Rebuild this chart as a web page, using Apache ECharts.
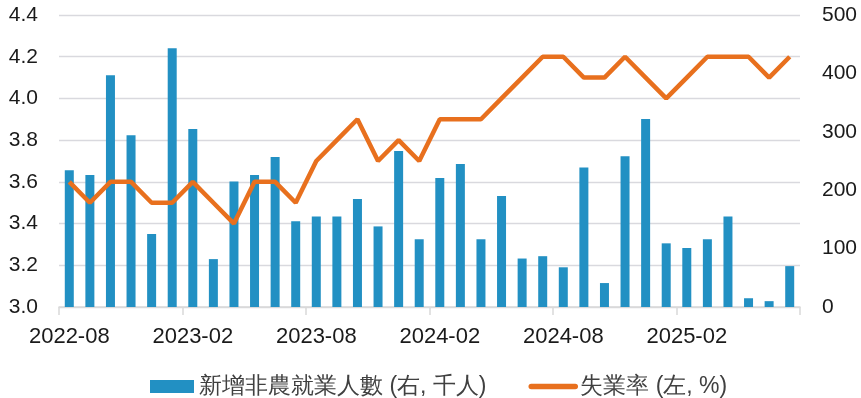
<!DOCTYPE html>
<html>
<head>
<meta charset="utf-8">
<script src="https://cdn.jsdelivr.net/npm/echarts@6/dist/echarts.min.js"></script>
<style>
html,body{margin:0;padding:0;background:#fff;}
#chart{width:861px;height:398px;}
</style>
</head>
<body>
<div id="chart"></div>
<script>
const months = [
  '2022-08','2022-09','2022-10','2022-11','2022-12','2023-01',
  '2023-02','2023-03','2023-04','2023-05','2023-06','2023-07',
  '2023-08','2023-09','2023-10','2023-11','2023-12','2024-01',
  '2024-02','2024-03','2024-04','2024-05','2024-06','2024-07',
  '2024-08','2024-09','2024-10','2024-11','2024-12','2025-01',
  '2025-02','2025-03','2025-04','2025-05','2025-06','2025-07'
];
const payrolls = [
  234, 226, 397, 294, 125, 443,
  305, 82, 215, 226, 257, 147,
  155, 155, 185, 138, 267, 116,
  221, 245, 116, 190, 83, 87,
  68, 239, 41, 258, 322, 109,
  101, 116, 155, 15, 10, 70
];
const unemployment = [
  3.6, 3.5, 3.6, 3.6, 3.5, 3.5,
  3.6, 3.5, 3.4, 3.6, 3.6, 3.5,
  3.7, 3.8, 3.9, 3.7, 3.8, 3.7,
  3.9, 3.9, 3.9, 4.0, 4.1, 4.2,
  4.2, 4.1, 4.1, 4.2, 4.1, 4.0,
  4.1, 4.2, 4.2, 4.2, 4.1, 4.2
];
const barName = '新增非農就業人數 (右, 千人)';
const lineName = '失業率 (左, %)';

const chart = echarts.init(document.getElementById('chart'), null, {renderer:'canvas'});
const font = 'Liberation Sans, Arial, sans-serif';
chart.setOption({
  animation: false,
  textStyle: {fontFamily: font},
  grid: {left: 59, right: 61, top: 15, bottom: 91, containLabel: false},
  legend: {
    top: 370,
    left: 145,
    itemWidth: 44,
    itemHeight: 13,
    itemGap: 42,
    textStyle: {fontSize: 23, color: '#404040', fontFamily: font},
    data: [
      {name: barName, icon: 'rect'},
      {name: lineName, itemStyle: {opacity: 0, borderWidth: 0},
        lineStyle: {width: 5.5, color: '#E8701E', cap: 'round'}}
    ]
  },
  xAxis: {
    type: 'category',
    data: months,
    boundaryGap: true,
    axisLine: {lineStyle: {color: '#D9D9D9', width: 1.5}},
    axisTick: {show: true, interval: 5, length: 8, lineStyle: {color: '#D9D9D9', width: 1.5}},
    axisLabel: {interval: 5, fontSize: 22, color: '#1a1a1a', margin: 19, fontFamily: font},
    splitLine: {show: false}
  },
  yAxis: [
    {
      type: 'value',
      min: 3.0, max: 4.4, interval: 0.2,
      position: 'left',
      axisLine: {show: false},
      axisTick: {show: false},
      axisLabel: {fontSize: 21, color: '#1a1a1a', margin: 21, fontFamily: font,
        formatter: v => v.toFixed(1)},
      splitLine: {show: true, lineStyle: {color: '#D9D9DE', width: 1.3}}
    },
    {
      type: 'value',
      min: 0, max: 500, interval: 100,
      position: 'right',
      axisLine: {show: false},
      axisTick: {show: false},
      axisLabel: {fontSize: 21, color: '#1a1a1a', margin: 22, fontFamily: font},
      splitLine: {show: false}
    }
  ],
  series: [
    {
      name: barName,
      type: 'bar',
      yAxisIndex: 1,
      data: payrolls,
      barWidth: 9,
      itemStyle: {color: '#2290C3'}
    },
    {
      name: lineName,
      type: 'line',
      yAxisIndex: 0,
      data: unemployment,
      symbol: 'none',
      showSymbol: false,
      lineStyle: {color: '#E8701E', width: 4.5},
      itemStyle: {color: '#E8701E'},
      z: 3
    }
  ]
});
</script>
</body>
</html>
